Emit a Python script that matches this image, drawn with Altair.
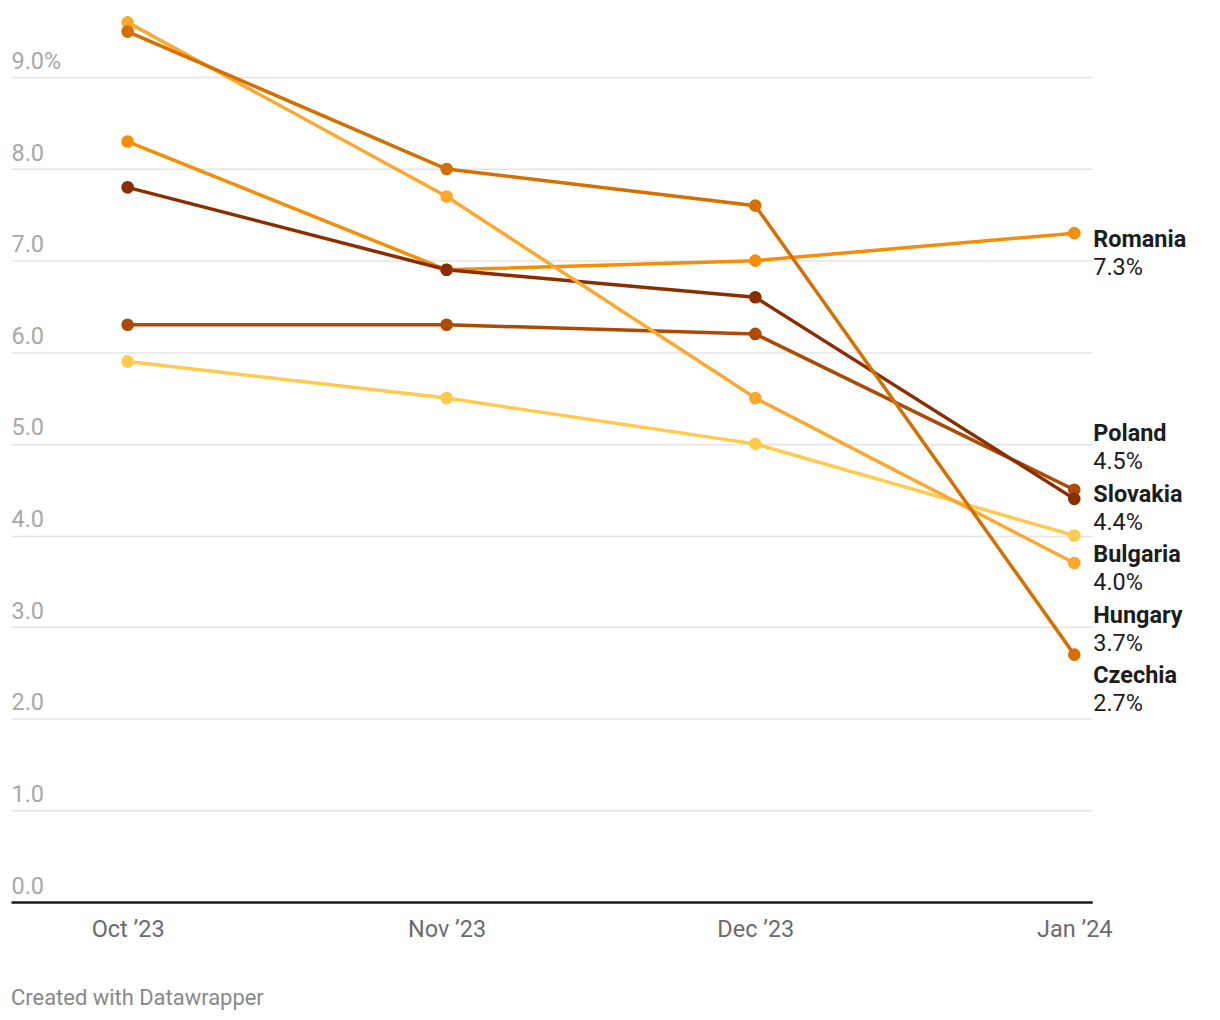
import altair as alt
import pandas as pd

months = ["2023-10-01", "2023-11-01", "2023-12-01", "2024-01-01"]
countries = ["Romania", "Poland", "Slovakia", "Bulgaria", "Hungary", "Czechia"]
romania = [8.3, 6.9, 7.0, 7.3]
poland = [6.3, 6.3, 6.2, 4.5]
slovakia = [7.8, 6.9, 6.6, 4.4]
bulgaria = [5.9, 5.5, 5.0, 4.0]
hungary = [9.6, 7.7, 5.5, 3.7]
czechia = [9.5, 8.0, 7.6, 2.7]
colors = ["#f58d06", "#ad4a03", "#8a2e00", "#ffca4d", "#fca82f", "#d56f00"]
y_ticks = [0, 1, 2, 3, 4, 5, 6, 7, 8, 9]

series = [romania, poland, slovakia, bulgaria, hungary, czechia]
rows = []
for c, vals in zip(countries, series):
    for m, v in zip(months, vals):
        rows.append({"country": c, "month": m, "value": v})
df = pd.DataFrame(rows)

# label dodging (data units)
gap = 0.66
last = sorted([(vals[-1], c) for c, vals in zip(countries, series)], reverse=True)
clusters = [[item] for item in last]
def positions(cl):
    center = sum(v for v, _ in cl) / len(cl)
    n = len(cl)
    return [center + gap * ((n - 1) / 2 - i) for i in range(n)]
changed = True
while changed:
    changed = False
    for i in range(1, len(clusters)):
        a = positions(clusters[i - 1])[-1]
        b = positions(clusters[i])[0]
        if a - b < gap:
            clusters[i - 1] = clusters[i - 1] + clusters[i]
            del clusters[i]
            changed = True
            break
lab_rows = []
for cl in clusters:
    for (v, c), p in zip(cl, positions(cl)):
        lab_rows.append({"country": c, "month": months[-1], "value": v,
                         "pos": p, "vtext": f"{v:.1f}%"})
labels = pd.DataFrame(lab_rows)

x_enc = alt.X("month:T",
              scale=alt.Scale(type="utc",
                              domain=[alt.DateTime(year=2023, month=9, date=19, hours=16, utc=True),
                                      alt.DateTime(year=2024, month=1, date=2, hours=18, utc=True)]),
              axis=alt.Axis(title=None, grid=False, ticks=False, tickSize=0,
                            values=[alt.DateTime(year=2023, month=10, date=1, utc=True),
                                    alt.DateTime(year=2023, month=11, date=1, utc=True),
                                    alt.DateTime(year=2023, month=12, date=1, utc=True),
                                    alt.DateTime(year=2024, month=1, date=1, utc=True)],
                            labelExpr="utcFormat(datum.value, '%b ’%y')",
                            labelFont="Roboto", labelFontSize=23.5, labelColor="#6b6b6b",
                            labelPadding=16, labelBound=False, labelOverlap=False,
                            domainColor="#1d1d1d", domainWidth=2.5))
y_scale = alt.Scale(domain=[0, 9.7], nice=False, zero=True)
color_enc = alt.Color("country:N", scale=alt.Scale(domain=countries, range=colors), legend=None)

lines = alt.Chart(df).mark_line(strokeWidth=3.5).encode(
    x=x_enc,
    y=alt.Y("value:Q", scale=y_scale,
            axis=alt.Axis(title=None, values=y_ticks, domain=False, ticks=False, tickSize=0,
                          gridColor="#e4e4e4", gridWidth=1.5,
                          labelAlign="left", labelBaseline="alphabetic", labelPadding=0,
                          labelOffset=-9, labelFont="Roboto", labelFontSize=23.5,
                          labelColor="#a8a8a8",
                          labelExpr="datum.value == 9 ? '9.0%' : format(datum.value, '.1f')")),
    color=color_enc,
    detail="country:N",
)
points = alt.Chart(df).mark_circle(size=160, opacity=1).encode(
    x="month:T", y=alt.Y("value:Q", scale=y_scale), color=color_enc)

names = alt.Chart(labels).mark_text(align="left", baseline="middle", dx=19, dy=7,
                                    font="Roboto", fontSize=23.5, fontWeight="bold",
                                    color="#1d1d1d").encode(
    x="month:T", y=alt.Y("pos:Q", scale=y_scale), text="country:N")
vals = alt.Chart(labels).mark_text(align="left", baseline="middle", dx=19, dy=35,
                                   font="Roboto", fontSize=23.5, color="#1d1d1d").encode(
    x="month:T", y=alt.Y("pos:Q", scale=y_scale), text="vtext:N")

chart = alt.layer(lines, points, names, vals).properties(
    width=1084, height=891,
    autosize=alt.AutoSizeParams(type="none"),
    padding={"left": 3, "top": 4, "right": 120, "bottom": 110},
    title=alt.TitleParams("Created with Datawrapper", orient="bottom", anchor="start",
                          font="Roboto", fontSize=22, fontWeight="normal", color="#888888",
                          offset=47),
).configure_view(stroke=None).configure_axis(labelFont="Roboto")

chart.save("out.html", embed_options={"renderer": "svg", "actions": False})
